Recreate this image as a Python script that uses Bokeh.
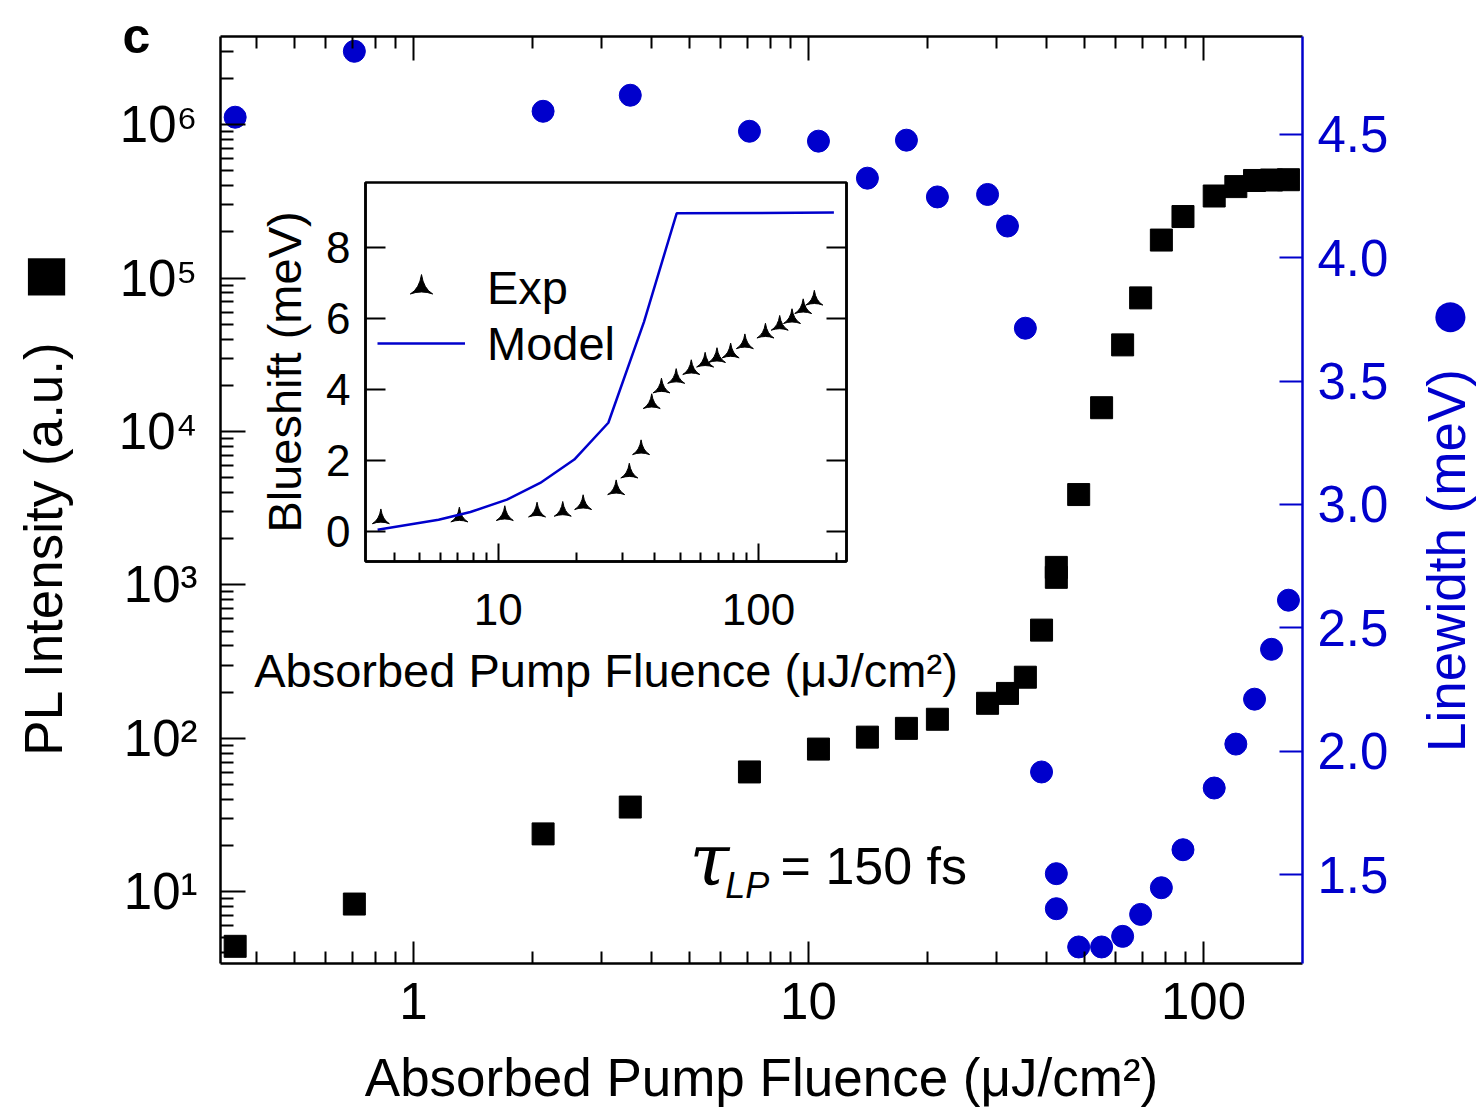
import math
from bokeh.plotting import figure
from bokeh.models import (Range1d, LinearAxis, LogAxis, LinearScale, FixedTicker,
                          PrintfTickFormatter, CustomJSTickFormatter, Label, Legend, LegendItem)
from bokeh.embed import file_html
from bokeh.resources import INLINE

# ---------------- data ----------------
fluence = [0.354, 0.709, 2.13, 3.54, 7.09, 10.6, 14.1, 17.7, 21.2, 28.4, 31.9, 35.4, 38.9,
           42.4, 42.4, 48.3, 55.2, 62.4, 69.3, 78.2, 88.7, 106.4, 120.7, 134.6, 148.6, 164.0]
pl_intensity = [4.4, 8.3, 23.8, 35.6, 60.3, 85, 101.7, 116, 133, 169, 196, 250, 507,
                1120, 1300, 3880, 14290, 36700, 74300, 177000, 252000, 343000, 395000,
                433000, 436000, 438000]
linewidth = [4.569, 4.836, 4.593, 4.658, 4.512, 4.472, 4.322, 4.476, 4.246, 4.256, 4.128,
             3.714, 1.916, 1.504, 1.362, 1.207, 1.207, 1.250, 1.339, 1.447, 1.601, 1.851,
             2.029, 2.211, 2.413, 2.612]

bs_fluence = [3.54, 7.09, 10.6, 14.1, 17.7, 21.2, 28.4, 31.9, 35.4, 38.9, 42.4, 48.3, 55.2,
              62.4, 69.3, 78.2, 88.7, 106.4, 120.7, 134.6, 148.6, 164.0]
blueshift = [0.35, 0.40, 0.44, 0.54, 0.56, 0.75, 1.17, 1.64, 2.30, 3.60, 4.04, 4.31, 4.56,
             4.77, 4.90, 5.03, 5.29, 5.59, 5.81, 6.00, 6.28, 6.52]
model_fluence = [3.44, 5.9, 7.82, 10.8, 14.5, 19.6, 26.5, 36.3, 48.5, 195.0]
model_shift = [0.04, 0.32, 0.54, 0.89, 1.36, 2.02, 3.06, 5.90, 8.97, 8.99]

x_ticks = [1, 10, 100]
left_exponents = [1, 2, 3, 4, 5, 6]
lw_ticks = [1.5, 2.0, 2.5, 3.0, 3.5, 4.0, 4.5]
inset_x_ticks = [10, 100]
inset_y_ticks = [0, 2, 4, 6, 8]

BLUE = "#0000CC"
FONT = "Liberation Sans"
W, H = 1480, 1109

X0, X1 = 0.325, 178.0
Y0, Y1 = 3.4, 3.76e6


def log_minor(lo, hi):
    out = []
    for e in range(-2, 8):
        for m in range(2, 10):
            v = m * 10.0 ** e
            if lo <= v <= hi:
                out.append(v)
    return out


def style(ax, color="black", major_in=24, minor_in=12, lw=2.5):
    ax.axis_line_color = color
    ax.axis_line_width = lw
    ax.major_tick_line_color = color
    ax.major_tick_line_width = 2
    ax.minor_tick_line_color = color
    ax.minor_tick_line_width = 2
    ax.major_tick_in = major_in
    ax.major_tick_out = 0
    ax.minor_tick_in = minor_in
    ax.minor_tick_out = 0
    ax.major_label_text_font = FONT
    ax.major_label_text_color = color
    ax.axis_label_text_font = FONT
    ax.axis_label_text_color = color
    ax.axis_label_text_font_style = "normal"


# ---------------- main figure ----------------
p = figure(width=W, height=H, x_axis_type="log", y_axis_type="log",
           x_range=Range1d(X0, X1), y_range=Range1d(Y0, Y1),
           output_backend="svg", toolbar_location=None, tools="",
           min_border_left=220, min_border_right=178, min_border_top=36, min_border_bottom=144)
p.outline_line_color = None
p.grid.visible = False
p.background_fill_color = "white"
p.border_fill_color = "white"

xa = p.xaxis[0]
xa.ticker = FixedTicker(ticks=x_ticks, minor_ticks=log_minor(X0, X1))
xa.formatter = CustomJSTickFormatter(code="return String(tick);")
style(xa, "black", 22, 12)
xa.major_label_text_font_size = "51px"
xa.major_label_standoff = 19
xa.axis_label = "Absorbed Pump Fluence (μJ/cm²)"
xa.axis_label_text_font_size = "53px"
xa.axis_label_standoff = 26

SUP_JS = """
const s = {"0":"⁰","1":"¹","2":"²","3":"³","4":"⁴","5":"⁵","6":"⁶","7":"⁷","8":"⁸","9":"⁹"};
const e = Math.round(Math.log10(tick));
return "10" + String(e).split("").map(c => s[c]).join("");
"""

ya = p.yaxis[0]
ya.ticker = FixedTicker(ticks=[10.0 ** e for e in left_exponents], minor_ticks=log_minor(Y0, Y1))
ya.formatter = CustomJSTickFormatter(code=SUP_JS)
style(ya, "black", 25, 13)
ya.major_label_text_font_size = "51px"
ya.major_label_standoff = 23

ta = LogAxis(ticker=FixedTicker(ticks=x_ticks, minor_ticks=log_minor(X0, X1)),
             formatter=CustomJSTickFormatter(code="return '';"))
style(ta, "black", 24, 12)
ta.major_label_text_font_size = "0px"
ta.major_label_standoff = 0
p.add_layout(ta, "above")

p.extra_y_ranges = {"lw": Range1d(1.14, 4.896)}
p.extra_y_scales = {"lw": LinearScale()}
ra = LinearAxis(y_range_name="lw", ticker=FixedTicker(ticks=lw_ticks, minor_ticks=[]),
                formatter=PrintfTickFormatter(format="%.1f"))
style(ra, BLUE, 23, 0)
ra.major_label_text_font_size = "51px"
ra.major_label_standoff = 15
p.add_layout(ra, "right")

p.scatter(fluence, pl_intensity, marker="square", size=22, color="black")
p.scatter(fluence, linewidth, marker="circle", size=22, color=BLUE, y_range_name="lw")

p.add_layout(Label(x=5.0, y=16.0, text="τ", text_font="DejaVu Serif",
                   text_font_style="italic", text_font_size="72px", text_align="left",
                   text_baseline="middle", text_color="black"))
p.add_layout(Label(x=6.16, y=11.0, text="LP", text_font=FONT, text_font_style="italic",
                   text_font_size="36px", text_align="left", text_baseline="middle",
                   text_color="black"))
p.add_layout(Label(x=8.50, y=14.74, text="= 150 fs", text_font=FONT,
                   text_font_size="52px", text_align="left", text_baseline="middle",
                   text_color="black"))

# ---------------- inset ----------------
IX0, IX1 = 3.09, 218.0
ins = figure(width=761, height=534, x_axis_type="log",
             x_range=Range1d(IX0, IX1), y_range=Range1d(-0.856, 9.84),
             output_backend="svg", toolbar_location=None, tools="",
             min_border_left=140, min_border_right=140, min_border_top=5, min_border_bottom=150)
ins.grid.visible = False
ins.background_fill_color = "white"
ins.border_fill_alpha = 0
ins.outline_line_color = "black"
ins.outline_line_width = 2.5

ixa = ins.xaxis[0]
ixa.ticker = FixedTicker(ticks=inset_x_ticks, minor_ticks=log_minor(IX0, IX1))
ixa.formatter = CustomJSTickFormatter(code="return String(tick);")
style(ixa, "black", 18, 9)
ixa.major_label_text_font_size = "44px"
ixa.major_label_standoff = 32
ixa.axis_label = "Absorbed Pump Fluence (μJ/cm²)"
ixa.axis_label_text_font_size = "47px"
ixa.axis_label_standoff = 16

iya = ins.yaxis[0]
iya.ticker = FixedTicker(ticks=inset_y_ticks, minor_ticks=[])
style(iya, "black", 20, 0)
iya.major_label_text_font_size = "44px"
iya.major_label_standoff = 15
iya.axis_label = "Blueshift (meV)"
iya.axis_label_text_font_size = "47px"
iya.axis_label_standoff = 12

iyr = LinearAxis(ticker=FixedTicker(ticks=inset_y_ticks, minor_ticks=[]),
                 formatter=CustomJSTickFormatter(code="return '';"))
style(iyr, "black", 20, 0)
iyr.major_label_text_font_size = "0px"
iyr.major_label_standoff = 0
ins.add_layout(iyr, "right")

r_exp = ins.scatter(bs_fluence, blueshift, marker="triangle_pin", size=17, color="black")
r_mod = ins.line(model_fluence, model_shift, line_color=BLUE, line_width=2.5)

leg = Legend(items=[LegendItem(label="Exp", renderers=[r_exp]),
                    LegendItem(label="Model", renderers=[r_mod])],
             location=(12, 190), glyph_width=88, glyph_height=56, label_height=56,
             label_standoff=22, padding=0, margin=0, spacing=0,
             border_line_color=None, background_fill_alpha=0,
             label_text_font=FONT, label_text_font_size="47px", label_text_color="black")
ins.add_layout(leg)
ins.styles = {"position": "absolute", "left": "225px", "top": "177px"}

# ---------------- page overlay: panel letter and side titles ----------------
ov = figure(width=W, height=H, x_range=Range1d(0, W), y_range=Range1d(H, 0),
            output_backend="svg", toolbar_location=None, tools="",
            x_axis_location=None, y_axis_location=None,
            min_border_left=0, min_border_right=0, min_border_top=0, min_border_bottom=0)
ov.grid.visible = False
ov.outline_line_color = None
ov.background_fill_alpha = 0
ov.border_fill_alpha = 0
ov.add_layout(Label(x=136, y=35, text="c", text_font=FONT, text_font_style="bold",
                    text_font_size="50px", text_align="center", text_baseline="middle",
                    text_color="black"))
ov.add_layout(Label(x=42.5, y=547.5, text="PL Intensity (a.u.)", angle=math.pi / 2,
                    text_font=FONT, text_font_size="53px", text_align="center",
                    text_baseline="middle", text_color="black"))
ov.add_layout(Label(x=46, y=272, text="■", text_font=FONT, text_font_size="77px",
                    text_align="center", text_baseline="middle", text_color="black"))
ov.add_layout(Label(x=1446, y=560, text="Linewidth (meV)", angle=math.pi / 2,
                    text_font=FONT, text_font_size="53px", text_align="center",
                    text_baseline="middle", text_color=BLUE))
ov.add_layout(Label(x=1450, y=312, text="●", text_font=FONT, text_font_size="70px",
                    text_align="center", text_baseline="middle", text_color=BLUE))
ov.styles = {"position": "absolute", "left": "0px", "top": "0px"}

open("out.html", "w").write(file_html([p, ins, ov], INLINE))
